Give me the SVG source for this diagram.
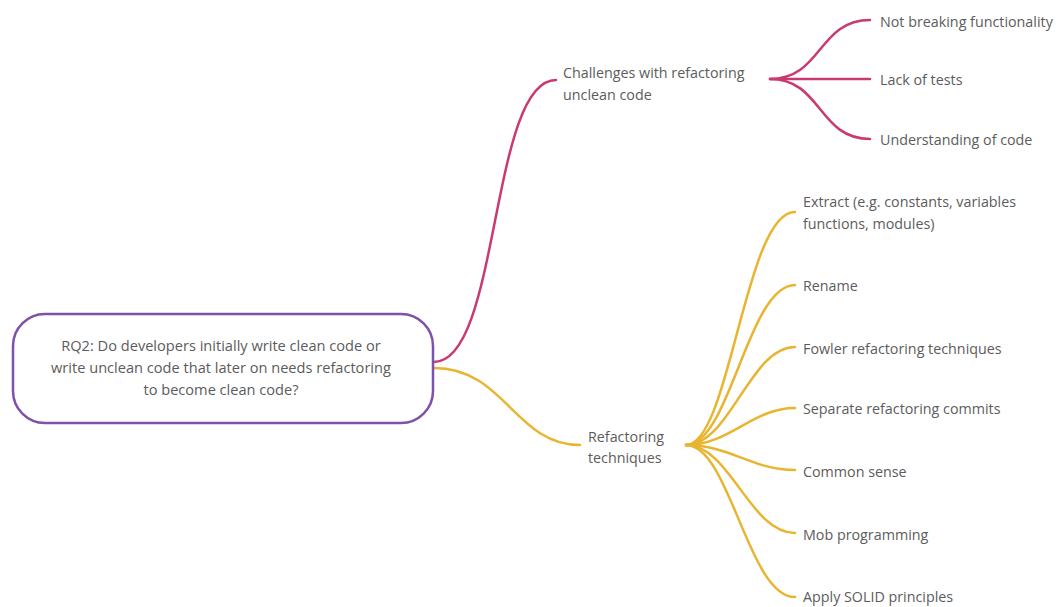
<svg xmlns="http://www.w3.org/2000/svg" width="1064" height="607" viewBox="0 0 1064 607">
  <style>
    text { font-family: "Open Sans", "Noto Sans", "Liberation Sans", sans-serif; font-size: 14.3px; fill: #5c5c5c; }
    .c { fill: none; stroke-width: 2.5; stroke-linecap: round; }
    .pink { stroke: #c93a72; }
    .gold { stroke: #e9b530; }
    .mid { text-anchor: middle; font-size: 14.6px; }
  </style>
  <rect width="1064" height="607" fill="#ffffff"/>

  <!-- connectors -->
  <g id="connectors">
    <path class="c pink" d="M434,362 C500,362 490,80 556,80"/>
    <path class="c gold" d="M434,368 C505,368 515,445 580,445"/>

    <path class="c pink" d="M770,79 C822,79 818,20 870,20"/>
    <path class="c pink" d="M770,79 L870,79"/>
    <path class="c pink" d="M770,79 C822,79 818,139 870,139"/>

    <path class="c gold" d="M686,445 C730,445 745,212 795,212"/>
    <path class="c gold" d="M686,445 C730,445 748,285 795,285"/>
    <path class="c gold" d="M686,445 C730,445 750,347 795,347"/>
    <path class="c gold" d="M686,445 C730,445 752,408 795,408"/>
    <path class="c gold" d="M686,445 C730,445 752,470 795,470"/>
    <path class="c gold" d="M686,445 C730,445 750,533 795,533"/>
    <path class="c gold" d="M686,445 C730,445 748,597 795,597"/>
  </g>

  <!-- central question -->
  <g id="root">
    <rect x="13" y="314" width="420" height="109" rx="32" ry="32" fill="#ffffff" stroke="#7d52a8" stroke-width="2.5"/>
    <text class="mid" x="221" y="351">RQ2: Do developers initially write clean code or</text>
    <text class="mid" x="221" y="373">write unclean code that later on needs refactoring</text>
    <text class="mid" x="221" y="395">to become clean code?</text>
  </g>

  <g id="challenges">
    <text x="563" y="78">Challenges with refactoring</text>
    <text x="563" y="100">unclean code</text>
  </g>
  <g id="not-breaking"><text x="880" y="27">Not breaking functionality</text></g>
  <g id="lack-tests"><text x="880" y="85">Lack of tests</text></g>
  <g id="understanding"><text x="880" y="145">Understanding of code</text></g>

  <g id="techniques">
    <text x="588" y="442">Refactoring</text>
    <text x="588" y="463">techniques</text>
  </g>
  <g id="extract">
    <text x="803" y="207">Extract (e.g. constants, variables</text>
    <text x="803" y="229">functions, modules)</text>
  </g>
  <g id="rename"><text x="803" y="291">Rename</text></g>
  <g id="fowler"><text x="803" y="354">Fowler refactoring techniques</text></g>
  <g id="separate"><text x="803" y="414">Separate refactoring commits</text></g>
  <g id="common-sense"><text x="803" y="477">Common sense</text></g>
  <g id="mob"><text x="803" y="540">Mob programming</text></g>
  <g id="solid"><text x="803" y="602">Apply SOLID principles</text></g>
</svg>
